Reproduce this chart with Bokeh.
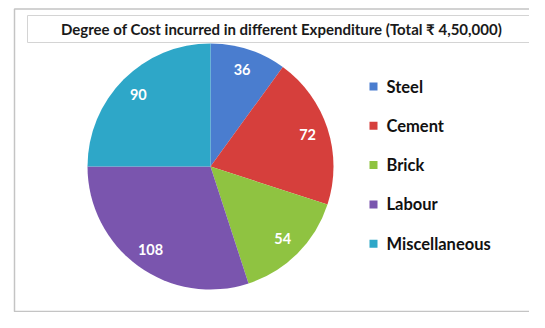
import math
from bokeh.plotting import figure
from bokeh.models import Range1d, ColumnDataSource
from bokeh.core.properties import value
from bokeh.embed import file_html
from bokeh.resources import INLINE

# ---- data ----
categories = ["Steel", "Cement", "Brick", "Labour", "Miscellaneous"]
degrees = [36, 72, 54, 108, 90]
colors = ["#4a7dcf", "#d63f3c", "#8fc341", "#7a55ae", "#2ea7c8"]
title_text = "Degree of Cost incurred in different Expenditure (Total \u20b9 4,50,000)"

W, H = 529, 312
p = figure(width=W, height=H, output_backend="svg", toolbar_location=None,
           x_range=Range1d(0, W), y_range=Range1d(0, H),
           min_border=0, outline_line_color=None)
p.axis.visible = False
p.grid.visible = False
p.background_fill_color = "white"
p.border_fill_color = "white"

def py(y):  # screen pixel y -> data y
    return H - y

# outer border
p.quad(left=[14], right=[545], top=[py(8.5)], bottom=[py(311)],
       fill_color=None, line_color="#c4c4c4", line_width=1.5)
# title box
p.quad(left=[27], right=[535], top=[py(15)], bottom=[py(42)],
       fill_color=None, line_color="#d4d4d4", line_width=1)
p.text(x=[281], y=[py(28.5)], text=[title_text], text_align="center",
       text_baseline="middle", text_font=value("Lato"), text_font_style="bold",
       text_font_size="15px", text_color="#1a1a1a")

# pie
cx, cy, R = 210, py(166), 123
starts, ends, mids = [], [], []
acc = 0
for d in degrees:
    a0 = math.pi / 2 - math.radians(acc)
    a1 = a0 - math.radians(d)
    starts.append(a1)
    ends.append(a0)
    mids.append((a0 + a1) / 2)
    acc += d
src = ColumnDataSource(dict(start=starts, end=ends, color=colors,
                            cat=categories, deg=[str(d) for d in degrees],
                            lx=[cx + 0.83 * R * math.cos(m) for m in mids],
                            ly=[cy + 0.83 * R * math.sin(m) for m in mids]))
p.wedge(x=cx, y=cy, radius=R, start_angle="start", end_angle="end",
        fill_color="color", line_color=None, source=src)
p.text(x="lx", y="ly", text="deg", source=src, text_align="center",
       text_baseline="middle", text_color="white", text_font=value("Lato"),
       text_font_style="bold", text_font_size="14.5px")

# legend
ly = [py(86 + 39.3 * i) for i in range(len(categories))]
lsrc = ColumnDataSource(dict(x=[373] * len(categories), tx=[386] * len(categories),
                             y=ly, color=colors, cat=categories))
p.scatter(x="x", y="y", marker="square", size=8, fill_color="color",
          line_color=None, source=lsrc)
p.text(x="tx", y="y", text="cat", source=lsrc, text_baseline="middle",
       text_font=value("Lato"), text_font_style="bold", text_font_size="16.5px",
       text_color="#111111")

open("out.html", "w").write(file_html(p, INLINE))
